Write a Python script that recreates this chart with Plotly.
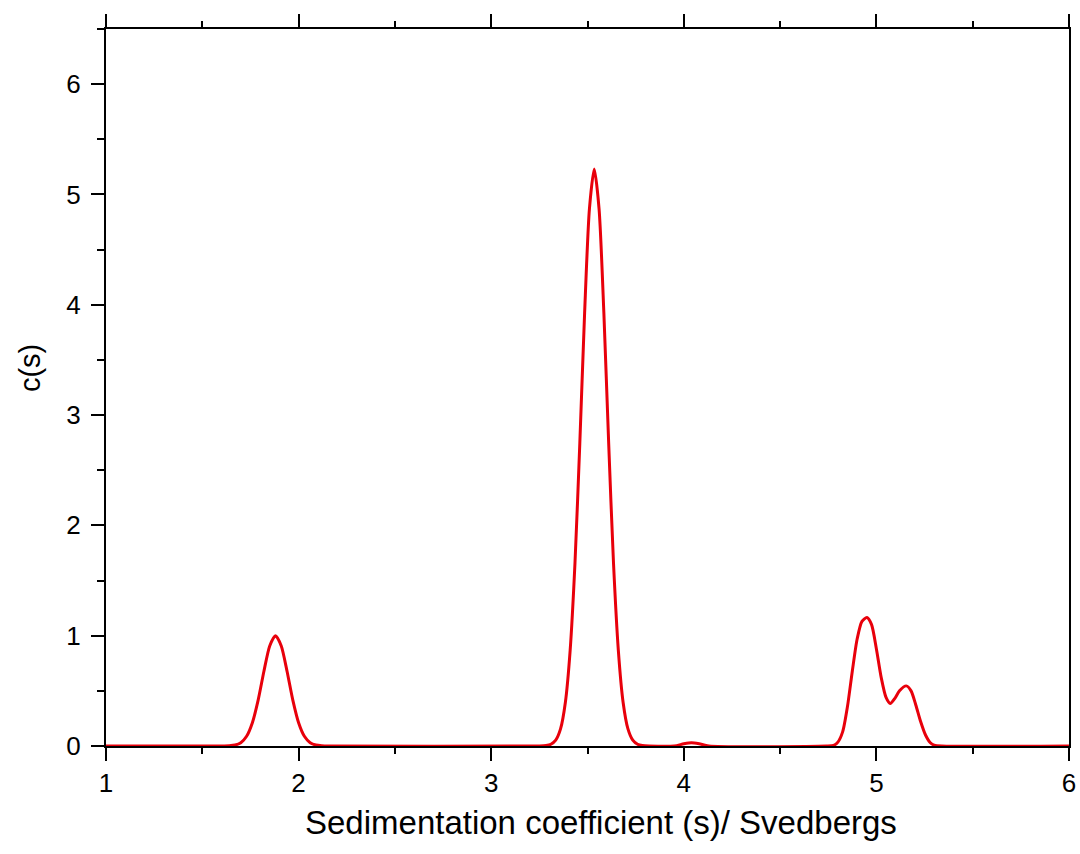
import plotly.graph_objects as go

# Sedimentation coefficient (Svedbergs) and c(s) values
s_values = [
    1.00, 1.60, 1.64, 1.67, 1.70, 1.73, 1.76, 1.79, 1.82, 1.85, 1.88, 1.91, 1.94, 1.97,
    2.00, 2.03, 2.06, 2.09, 2.12, 2.16,
    3.25, 3.285, 3.31, 3.335, 3.36, 3.385, 3.41, 3.435, 3.46, 3.485, 3.51, 3.535,
    3.56, 3.585, 3.61, 3.635, 3.66, 3.685, 3.71, 3.735, 3.76, 3.785, 3.82,
    3.95, 4.00, 4.04, 4.08, 4.13,
    4.74, 4.778, 4.80, 4.825, 4.85, 4.875, 4.90, 4.925, 4.951, 4.975, 5.00, 5.025, 5.05,
    5.072, 5.095, 5.12, 5.155, 5.18, 5.205, 5.23, 5.255, 5.28, 5.30, 5.34, 6.00,
]
cs_values = [
    0.0, 0.0, 0.002, 0.0085, 0.03, 0.088, 0.211, 0.416, 0.678, 0.907, 1.0, 0.907, 0.678, 0.416,
    0.211, 0.088, 0.03, 0.0085, 0.002, 0.0,
    0.0, 0.004, 0.016, 0.053, 0.155, 0.395, 0.870, 1.659, 2.742, 3.925, 4.869, 5.23,
    4.869, 3.925, 2.742, 1.659, 0.870, 0.395, 0.155, 0.053, 0.016, 0.004, 0.0,
    0.0, 0.02, 0.03, 0.02, 0.0,
    0.0, 0.006, 0.035, 0.13, 0.36, 0.68, 0.97, 1.13, 1.165, 1.10, 0.88, 0.62, 0.44,
    0.385, 0.43, 0.50, 0.545, 0.50, 0.37, 0.22, 0.10, 0.03, 0.008, 0.0, 0.0,
]

x_ticks = [1, 2, 3, 4, 5, 6]
y_ticks = [0, 1, 2, 3, 4, 5, 6]

x_title = "Sedimentation coefficient (s)/ Svedbergs"
y_title = "c(s)"

font_family = "Liberation Sans, Arial, sans-serif"

fig = go.Figure()
fig.add_trace(go.Scatter(
    x=s_values, y=cs_values, mode="lines",
    line=dict(color="#e8000b", width=3, shape="spline", smoothing=0.7),
    showlegend=False, hoverinfo="x+y",
))

axis_common = dict(
    showline=True, linecolor="black", linewidth=2,
    ticks="outside", ticklen=13, tickwidth=2, tickcolor="black",
    showgrid=False, zeroline=False, automargin=False,
    tickfont=dict(family=font_family, size=26, color="black"),
)

fig.update_layout(
    width=1080, height=854,
    paper_bgcolor="white", plot_bgcolor="white",
    margin=dict(l=106, r=11, t=29, b=108),
    font=dict(family=font_family, color="black"),
    xaxis=dict(
        **axis_common,
        range=[1, 6], tickvals=x_ticks, mirror="allticks",
        minor=dict(dtick=0.5, ticklen=6, tickwidth=2, tickcolor="black", ticks="outside"),
        ticklabelstandoff=0,
    ),
    yaxis=dict(
        **axis_common,
        range=[0, 6.5], tickvals=y_ticks, mirror=True,
        minor=dict(dtick=0.5, ticklen=7, tickwidth=2, tickcolor="black", ticks="outside"),
        ticklabelstandoff=5,
    ),
    annotations=[
        dict(
            text=y_title, textangle=-90, xref="paper", yref="paper",
            x=-0.079, y=0.527, xanchor="center", yanchor="middle", showarrow=False,
            font=dict(family=font_family, size=29, color="black"),
        ),
        dict(
            text=x_title, xref="paper", yref="paper",
            x=0.514, y=-0.107, xanchor="center", yanchor="middle", showarrow=False,
            font=dict(family=font_family, size=33, color="black"),
        ),
    ],
)

# remove the default page margin so the 1080x854 figure fills the window exactly
fig.write_html(
    "out.html",
    config={"displayModeBar": False},
    post_script="document.body.style.margin='0px';",
)
